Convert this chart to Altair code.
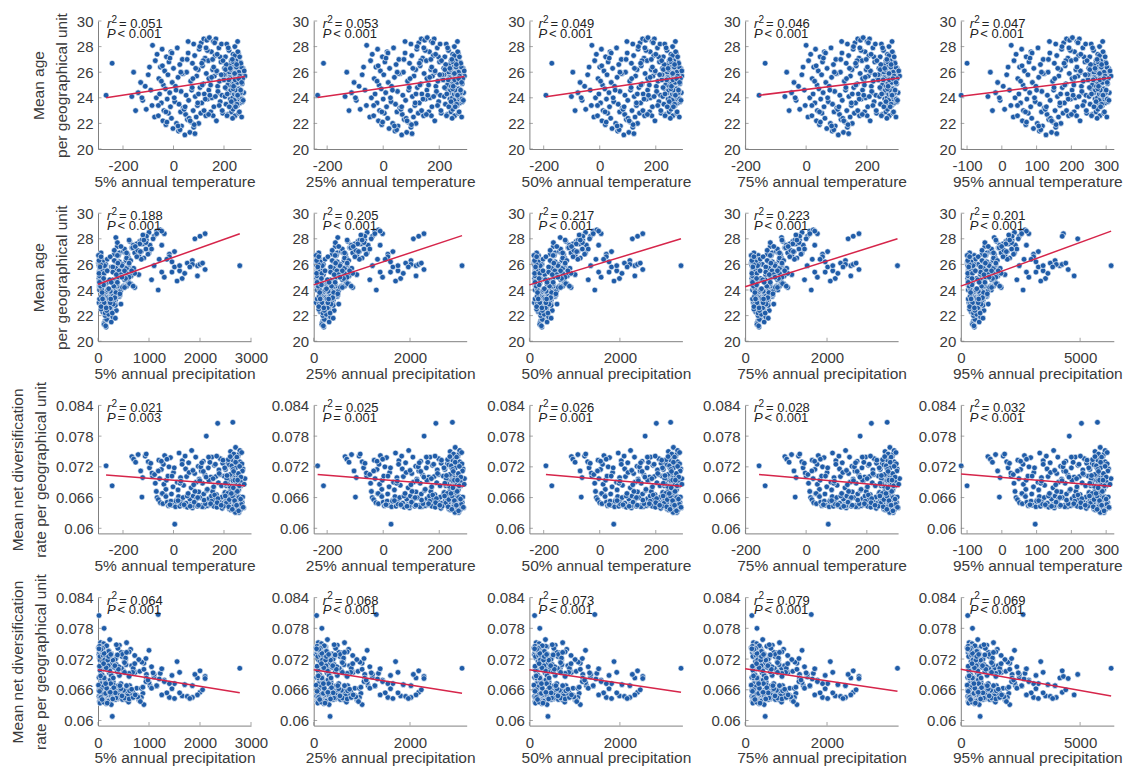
import altair as alt
import pandas as pd

# ---------------------------------------------------------------------------
# One record per geographical unit: mean age, mean net diversification rate,
# quantiles of annual temperature (x10 degC) and annual precipitation (mm).
# ---------------------------------------------------------------------------
AGE = [
    24.2, 26.7, 24.1, 26.0, 23.0, 24.4, 25.2, 23.8, 24.9, 23.1, 25.8, 24.0, 26.4, 24.6, 28.1, 23.4,
    22.5, 26.9, 24.0, 27.4, 22.6, 25.5, 24.3, 26.4, 23.6, 27.8, 22.2, 25.0, 23.0, 26.1, 24.7, 21.9,
    27.2, 23.9, 25.8, 22.8, 26.8, 24.4, 23.3, 27.6, 22.4, 25.2, 21.6, 26.3, 23.7, 24.9, 22.0, 27.9,
    25.6, 21.4, 23.5, 26.6, 22.9, 24.5, 21.8, 27.0, 23.2, 25.9, 21.1, 22.7, 24.2, 26.0, 22.3, 27.5,
    23.8, 21.3, 25.3, 22.1, 24.6, 26.7, 23.0, 21.7, 27.3, 24.1, 22.5, 25.7, 23.4, 26.2, 22.0, 28.2,
    27.8, 24.8, 28.3, 23.6, 26.5, 25.1, 28.6, 24.3, 27.1, 22.6, 25.9, 28.5, 23.9, 26.9, 24.6, 28.7,
    25.4, 22.9, 27.6, 24.0, 26.2, 28.4, 23.3, 25.7, 27.3, 24.9, 28.6, 22.2, 26.0, 24.4, 27.9, 25.3,
    23.7, 26.8, 28.2, 24.2, 22.8, 25.6, 27.0, 25.5,
    25.4, 26.3, 24.1, 27.2, 23.5, 25.9, 24.7, 26.0, 22.7, 25.1, 27.7, 24.4, 26.6, 23.9, 25.6, 24.9,
    26.9, 22.9, 25.2, 24.0, 26.2, 23.2, 25.8, 27.4, 24.6, 25.9, 23.6, 26.4, 24.3, 25.0, 28.0, 22.6,
    25.7, 24.8, 26.1, 23.8, 25.3, 24.5, 26.7, 26.1, 23.4, 28.4, 24.2, 25.6, 22.8, 26.5, 24.7, 25.4,
    23.6, 26.8, 24.0, 25.9, 22.5, 25.1, 26.3, 24.4, 25.7,
    25.0, 26.0, 24.6, 23.1, 25.5, 26.9, 24.3, 25.2, 27.5, 23.9, 25.8, 24.5, 26.4, 23.7, 25.3, 26.0,
    25.6, 28.2,
    23.4, 26.5, 22.1, 27.5, 24.6, 21.5, 25.9, 23.1, 27.0, 22.4, 24.8, 21.9, 26.3, 23.6, 28.0, 22.8,
    25.0, 26.9, 23.9, 27.7, 24.2, 25.6, 22.6, 28.3, 26.1, 24.5, 27.2, 23.0, 25.8, 26.6, 24.3, 27.9,
    23.3, 25.5, 26.2, 24.9, 22.4, 26.8, 25.1, 23.8, 27.3, 24.6, 25.9, 26.4, 23.5, 25.2, 27.6, 24.1,
    26.0, 22.9, 25.7, 24.4, 26.7, 25.3, 23.9, 25.5, 24.7, 25.4, 26.2, 25.8,
    25.3, 22.9, 27.1, 24.0, 21.8, 26.0, 23.3, 28.4, 22.2, 25.5, 21.2, 24.3, 26.7, 23.0, 27.9, 22.7,
    25.0, 26.4, 24.1, 27.4, 23.4, 25.8, 26.9, 24.8, 22.6, 25.4, 26.3, 23.7, 27.0, 24.9, 25.9, 23.3,
    26.6, 24.2, 25.5, 27.2, 24.6, 25.2, 23.8, 26.1,
]

RATE = [
    0.0722, 0.0683, 0.0740, 0.0735, 0.0729, 0.0744, 0.0712, 0.0699, 0.0741, 0.0745, 0.0730, 0.0661,
    0.0718, 0.0727, 0.0702, 0.0708,
    0.0705, 0.0688, 0.0672, 0.0660, 0.0656, 0.0733, 0.0697, 0.0650, 0.0715, 0.0668, 0.0648, 0.0725,
    0.0686, 0.0742, 0.0664, 0.0676, 0.0694, 0.0651, 0.0702, 0.0644, 0.0720, 0.0646, 0.0738, 0.0653,
    0.0667, 0.0645, 0.0681, 0.0709, 0.0608, 0.0642, 0.0655, 0.0690, 0.0675, 0.0662, 0.0747, 0.0643,
    0.0699, 0.0652, 0.0647, 0.0732, 0.0660, 0.0684, 0.0644, 0.0716, 0.0649, 0.0701, 0.0641, 0.0668,
    0.0728, 0.0657, 0.0646, 0.0679, 0.0752, 0.0640, 0.0663, 0.0645, 0.0707, 0.0650, 0.0690, 0.0658,
    0.0643, 0.0721, 0.0671, 0.0685,
    0.0696, 0.0660, 0.0712, 0.0645, 0.0688, 0.0731, 0.0667, 0.0642, 0.0704, 0.0650, 0.0780, 0.0674,
    0.0644, 0.0718, 0.0658, 0.0692, 0.0646, 0.0700, 0.0663, 0.0739, 0.0648, 0.0679, 0.0643, 0.0723,
    0.0656, 0.0805, 0.0701, 0.0666, 0.0641, 0.0689, 0.0714, 0.0652, 0.0736, 0.0645, 0.0683, 0.0661,
    0.0727, 0.0649, 0.0672, 0.0694,
    0.0702, 0.0668, 0.0670, 0.0715, 0.0654, 0.0683, 0.0645, 0.0655, 0.0726, 0.0661, 0.0695, 0.0637,
    0.0672, 0.0672, 0.0750, 0.0648, 0.0683, 0.0641, 0.0719, 0.0807, 0.0659, 0.0700, 0.0643, 0.0733,
    0.0666, 0.0702, 0.0652, 0.0744, 0.0640, 0.0676, 0.0690, 0.0633, 0.0698, 0.0758, 0.0647, 0.0685,
    0.0727, 0.0644, 0.0669, 0.0660, 0.0638, 0.0686, 0.0740, 0.0655, 0.0675, 0.0631, 0.0706, 0.0662,
    0.0730, 0.0648, 0.0689, 0.0690, 0.0651, 0.0650, 0.0716, 0.0640, 0.0697,
    0.0668, 0.0724, 0.0636, 0.0693, 0.0651, 0.0737, 0.0664, 0.0634, 0.0701, 0.0746, 0.0659, 0.0683,
    0.0645, 0.0712, 0.0670, 0.0645, 0.0682, 0.0697,
    0.0712, 0.0668, 0.0735, 0.0702, 0.0653, 0.0688, 0.0725, 0.0646, 0.0663, 0.0709, 0.0644, 0.0651,
    0.0739, 0.0660, 0.0693, 0.0720, 0.0642, 0.0711, 0.0648, 0.0676, 0.0729, 0.0653, 0.0697, 0.0665,
    0.0741, 0.0658, 0.0705, 0.0639, 0.0718, 0.0649, 0.0687, 0.0734, 0.0656, 0.0705, 0.0641, 0.0722,
    0.0663, 0.0679, 0.0745, 0.0644, 0.0694, 0.0631, 0.0718, 0.0654, 0.0739, 0.0672, 0.0640, 0.0707,
    0.0660, 0.0683, 0.0752, 0.0636, 0.0700, 0.0647, 0.0726, 0.0661, 0.0715, 0.0650, 0.0688, 0.0643,
    0.0731, 0.0662, 0.0646, 0.0718, 0.0654, 0.0692, 0.0741, 0.0668, 0.0643, 0.0713, 0.0672, 0.0645,
    0.0728, 0.0655, 0.0700, 0.0739, 0.0648, 0.0681, 0.0725, 0.0650, 0.0707, 0.0645, 0.0733, 0.0663,
    0.0703, 0.0642, 0.0740, 0.0668, 0.0637, 0.0711, 0.0654, 0.0729, 0.0645, 0.0694, 0.0634, 0.0721,
    0.0657, 0.0748, 0.0641, 0.0686,
]

T05 = [
    -267, -243, -165, -158, -150, -140, -130, -122, -112, -108, -100, -125, -95, -90, -83, -85,
    -75, -72, -68, -65, -60, -58, -55, -52, -48, -45, -42, -40, -38, -35, -32, -30,
    -28, -25, -22, -20, -18, -15, -12, -10, -8, -5, -2, 0, 5, 8, 12, 15,
    18, 20, 22, 25, 28, 30, 32, 35, 38, 40, 45, 48, 50, 52, 55, 58,
    60, 65, 68, 70, 72, 75, 78, 80, 84, 86, 90, 92, 95, 98, 100, 80,
    102, 105, 110, 112, 115, 118, 120, 122, 125, 128, 130, 132, 135, 138, 140, 142,
    145, 148, 150, 152, 155, 158, 160, 162, 165, 175, 168, 170, 172, 178, 180, 182,
    185, 188, 190, 192, 195, 198, 155, 140,
    200, 202, 204, 206, 208, 210, 212, 214, 216, 218, 220, 222, 224, 225, 226, 228,
    229, 230, 231, 235, 232, 233, 234, 236, 237, 238, 239, 240, 241, 242, 243, 244,
    245, 246, 247, 248, 249, 250, 251, 252, 253, 254, 255, 256, 258, 259, 260, 262,
    263, 265, 266, 268, 270, 272, 275, 278, 283,
    215, 221, 227, 236, 242, 247, 251, 254, 257, 261, 264, 267, 269, 273, 246, 249,
    223, 211,
    -60, -44, -26, -6, 10, 26, 34, 42, 54, 62, 74, 82, 88, 96, 104, 108,
    114, 118, 126, 134, 144, 151, 157, 163, 171, 176, 184, 193, 203, 209, 213, 217,
    221, 224, 227, 231, 234, 237, 239, 241, 243, 245, 247, 249, 251, 253, 255, 257,
    259, 261, 263, 265, 267, 269, 271, 274, 236, 244, 206, 198,
    -48, -30, -14, 3, 18, 29, 46, 58, 66, 77, 85, 99, 112, 121, 129, 139,
    147, 159, 166, 173, 181, 189, 196, 205, 212, 219, 225, 229, 233, 238, 242, 246,
    250, 254, 258, 262, 266, 270, 276, 280,
]

T25 = [
    -234, -213, -136, -130, -122, -113, -104, -96, -86, -82, -75, -99, -70, -65, -59, -60,
    -48, -45, -42, -39, -34, -32, -29, -26, -22, -20, -17, -15, -13, -10, -7, -5,
    -3, 0, 2, 4, 6, 9, 12, 14, 16, 18, 21, 23, 28, 30, 34, 37,
    40, 42, 44, 46, 49, 51, 53, 56, 59, 61, 66, 68, 70, 72, 75, 78,
    80, 84, 87, 89, 91, 94, 97, 99, 102, 104, 108, 110, 113, 116, 117, 99,
    120, 122, 127, 129, 132, 134, 136, 138, 141, 144, 146, 148, 151, 154, 156, 157,
    160, 163, 165, 167, 170, 172, 174, 176, 179, 188, 182, 184, 186, 191, 193, 195,
    198, 201, 203, 204, 207, 210, 170, 156,
    214, 216, 218, 220, 222, 224, 226, 228, 229, 231, 233, 235, 237, 238, 239, 241,
    242, 242, 243, 247, 244, 245, 246, 248, 249, 250, 251, 252, 253, 253, 254, 255,
    256, 257, 258, 259, 260, 261, 262, 263, 264, 265, 266, 267, 268, 269, 270, 272,
    273, 275, 276, 278, 280, 282, 285, 287, 290,
    229, 234, 240, 248, 253, 258, 262, 265, 268, 271, 274, 277, 279, 283, 257, 260,
    236, 225,
    -34, -18, -2, 17, 33, 48, 55, 63, 74, 82, 93, 101, 106, 114, 121, 125,
    131, 134, 142, 150, 159, 166, 172, 177, 185, 190, 197, 206, 217, 223, 227, 230,
    234, 237, 240, 243, 246, 249, 251, 253, 254, 256, 258, 260, 262, 264, 266, 268,
    269, 271, 273, 275, 277, 279, 281, 284, 248, 255, 220, 210,
    -22, -5, 10, 26, 40, 50, 66, 78, 85, 96, 103, 117, 129, 137, 145, 154,
    162, 173, 180, 187, 194, 202, 208, 219, 226, 232, 238, 242, 245, 250, 254, 257,
    261, 265, 269, 272, 276, 280, 286, 289,
]

T50 = [
    -192, -171, -101, -96, -88, -78, -70, -63, -54, -50, -43, -66, -38, -34, -28, -30,
    -21, -18, -15, -12, -8, -6, -3, 0, 3, 6, 8, 10, 12, 15, 18, 20,
    21, 24, 26, 28, 30, 33, 35, 37, 39, 41, 44, 46, 50, 53, 57, 60,
    62, 64, 66, 68, 71, 72, 74, 77, 80, 81, 86, 89, 90, 92, 95, 98,
    100, 104, 107, 109, 110, 113, 115, 118, 121, 123, 126, 128, 131, 133, 135, 118,
    137, 140, 144, 146, 148, 151, 153, 155, 158, 160, 162, 164, 167, 169, 171, 172,
    175, 178, 180, 181, 184, 187, 188, 190, 193, 202, 195, 197, 199, 204, 206, 208,
    211, 213, 215, 217, 219, 222, 184, 171,
    222, 224, 225, 227, 229, 231, 232, 234, 236, 238, 240, 241, 243, 244, 245, 247,
    248, 248, 249, 253, 250, 251, 252, 254, 255, 256, 257, 258, 259, 259, 260, 261,
    262, 263, 264, 265, 266, 267, 267, 268, 269, 270, 271, 272, 274, 275, 275, 277,
    278, 280, 281, 283, 284, 286, 289, 291, 293,
    235, 241, 246, 254, 259, 264, 267, 270, 273, 276, 279, 282, 284, 287, 263, 266,
    242, 232,
    -8, 7, 23, 41, 55, 69, 77, 83, 94, 101, 112, 119, 124, 131, 138, 142,
    147, 151, 158, 165, 174, 180, 186, 191, 198, 203, 210, 218, 224, 230, 233, 237,
    241, 243, 246, 249, 252, 255, 257, 259, 260, 262, 264, 266, 267, 269, 271, 273,
    275, 276, 278, 280, 282, 284, 285, 288, 254, 261, 227, 222,
    3, 19, 34, 48, 62, 72, 87, 97, 105, 114, 122, 134, 146, 154, 161, 170,
    177, 188, 194, 200, 207, 214, 221, 226, 233, 239, 244, 248, 251, 256, 260, 263,
    267, 270, 274, 278, 281, 285, 290, 293,
]

T75 = [
    -155, -135, -70, -64, -56, -48, -40, -33, -25, -21, -14, -36, -10, -6, 0, -3,
    6, 8, 12, 15, 19, 20, 23, 25, 29, 31, 34, 36, 37, 40, 42, 44,
    46, 48, 51, 52, 54, 56, 59, 60, 62, 65, 68, 69, 73, 76, 80, 82,
    84, 86, 87, 90, 92, 94, 96, 98, 101, 102, 106, 110, 111, 113, 115, 118,
    119, 123, 126, 128, 130, 132, 134, 136, 140, 141, 145, 146, 149, 151, 152, 136,
    155, 157, 161, 163, 165, 168, 170, 172, 174, 176, 178, 179, 182, 184, 186, 188,
    190, 193, 194, 196, 198, 201, 203, 205, 207, 215, 209, 211, 213, 218, 220, 221,
    224, 226, 228, 230, 232, 235, 198, 186,
    238, 240, 242, 244, 245, 247, 248, 250, 251, 253, 255, 256, 258, 259, 260, 262,
    263, 263, 264, 267, 265, 266, 266, 268, 269, 269, 270, 271, 272, 272, 273, 274,
    275, 276, 277, 278, 279, 280, 280, 281, 282, 283, 284, 284, 286, 287, 287, 289,
    290, 291, 292, 294, 296, 298, 300, 303, 308,
    251, 256, 261, 268, 272, 277, 280, 283, 285, 288, 290, 293, 295, 299, 276, 279,
    257, 248,
    19, 33, 47, 64, 78, 91, 98, 104, 114, 121, 131, 138, 143, 149, 156, 159,
    164, 168, 175, 181, 190, 195, 201, 205, 212, 216, 223, 231, 241, 246, 249, 252,
    256, 258, 261, 264, 266, 269, 270, 272, 273, 275, 277, 279, 280, 282, 284, 285,
    287, 288, 290, 291, 293, 295, 297, 300, 268, 274, 244, 237,
    28, 44, 57, 71, 84, 93, 108, 117, 124, 133, 140, 152, 163, 170, 177, 185,
    192, 202, 208, 214, 220, 227, 233, 243, 248, 254, 259, 263, 266, 270, 273, 277,
    280, 283, 286, 290, 293, 296, 301, 305,
]

T95 = [
    -117, -100, -40, -33, -27, -18, -12, -5, 4, 8, 14, -7, 18, 22, 27, 26,
    33, 35, 38, 41, 45, 46, 49, 51, 54, 57, 59, 61, 62, 65, 67, 69,
    70, 72, 75, 76, 78, 80, 83, 84, 86, 88, 91, 92, 96, 98, 102, 104,
    106, 108, 109, 111, 114, 115, 117, 119, 122, 123, 127, 130, 131, 133, 135, 138,
    139, 143, 146, 147, 149, 151, 153, 155, 158, 160, 163, 164, 167, 169, 170, 155,
    172, 174, 178, 180, 182, 184, 186, 188, 190, 192, 194, 195, 198, 200, 202, 203,
    205, 208, 209, 211, 213, 216, 217, 219, 221, 229, 223, 225, 227, 231, 233, 234,
    237, 239, 241, 242, 244, 247, 213, 202,
    248, 250, 251, 253, 254, 256, 257, 259, 260, 262, 264, 265, 267, 268, 268, 270,
    271, 271, 272, 275, 273, 274, 274, 276, 277, 277, 278, 279, 280, 280, 281, 282,
    283, 283, 284, 285, 286, 287, 287, 288, 289, 290, 291, 291, 293, 294, 294, 296,
    297, 298, 299, 301, 302, 304, 307, 309, 314,
    260, 265, 269, 276, 280, 284, 287, 290, 292, 295, 297, 300, 302, 305, 283, 286,
    266, 257,
    45, 58, 71, 87, 100, 112, 119, 125, 134, 140, 150, 156, 161, 167, 173, 176,
    181, 184, 191, 197, 205, 210, 215, 219, 226, 230, 236, 243, 250, 255, 258, 261,
    265, 267, 269, 272, 274, 277, 278, 280, 281, 283, 284, 286, 287, 289, 291, 292,
    294, 295, 297, 298, 300, 302, 303, 306, 276, 282, 253, 247,
    54, 68, 81, 94, 106, 114, 128, 137, 143, 152, 158, 169, 179, 186, 193, 200,
    207, 216, 222, 227, 233, 240, 245, 252, 258, 263, 268, 271, 274, 278, 281, 284,
    287, 291, 294, 297, 300, 303, 308, 311,
]

P05 = [
    30, 60, 40, 90, 20, 150, 110, 200, 70, 130, 260, 300, 40, 180, 350, 90,
    250, 420, 60, 380, 120, 30, 500, 180, 90, 620, 150, 40, 280, 10, 340, 200,
    730, 110, 460, 260, 320, 80, 30, 880, 170, 400, 140, 550, 280, 60, 220, 950,
    300, 120, 420, 240, 70, 640, 180, 500, 340, 20, 160, 260, 720, 380, 90, 1020,
    200, 120, 470, 240, 50, 800, 310, 170, 660, 420, 60, 560, 250, 350, 140, 1100,
    820, 280, 900, 150, 600, 90, 1150, 380, 320, 200, 120, 1000, 440, 540, 60, 1220,
    300, 180, 760, 30, 420, 1300, 250, 350, 680, 20, 1250, 140, 480, 70, 860, 560,
    210, 1400, 950, 330, 100, 650, 1500, 1600,
    40, 1850, 300, 520, 150, 1950, 90, 2000, 200, 650, 380, 30, 1400, 250, 110, 1650,
    60, 340, 800, 1180, 20, 180, 1500, 450, 100, 2780, 280, 70, 560, 1300, 1900, 160,
    40, 230, 1750, 120, 720, 380, 10, 2050, 200, 2100, 60, 470, 140, 900, 30, 1450,
    260, 580, 80, 1100, 190, 1950, 320, 50, 700,
    400, 150, 600, 220, 90, 1000, 310, 40, 1250, 170, 500, 120, 850, 280, 1700, 1850,
    2100, 2000,
    330, 560, 210, 690, 380, 260, 470, 310, 850, 360, 520, 290, 640, 430, 1080, 340,
    610, 720, 260, 940, 480, 150, 230, 880, 390, 620, 1050, 120, 290, 760, 50, 610,
    220, 410, 90, 540, 170, 980, 30, 350, 680, 260, 130, 1350, 70, 450, 820, 200,
    50, 300, 560, 110, 400, 20, 240, 660, 1550, 1250, 1450, 1800,
    120, 450, 780, 190, 340, 610, 90, 1150, 280, 520, 150, 690, 380, 240, 900, 60,
    470, 1200, 210, 730, 330, 40, 560, 1050, 160, 290, 20, 430, 830, 110, 1600, 250,
    60, 520, 180, 940, 30, 360, 80, 610,
]

P25 = [
    70, 110, 85, 170, 50, 250, 200, 310, 140, 230, 380, 430, 100, 290, 500, 170,
    310, 490, 100, 450, 170, 70, 575, 235, 135, 705, 200, 85, 340, 50, 405, 255,
    820, 160, 530, 320, 385, 125, 70, 980, 220, 470, 190, 630, 340, 105, 275, 1060,
    360, 170, 490, 295, 115, 725, 235, 575, 405, 60, 210, 320, 810, 450, 135, 1130,
    255, 170, 545, 295, 95, 895, 370, 220, 745, 490, 105, 640, 310, 415, 190, 1220,
    920, 340, 1005, 200, 680, 135, 1270, 450, 385, 255, 170, 1110, 510, 615, 105, 1345,
    360, 235, 855, 70, 490, 1430, 310, 415, 770, 60, 1380, 190, 555, 115, 960, 640,
    265, 1540, 1060, 395, 145, 735, 1645, 1750,
    85, 2020, 360, 595, 200, 2125, 135, 2180, 255, 735, 450, 70, 1540, 310, 160, 1805,
    105, 405, 895, 1300, 60, 235, 1645, 520, 145, 3080, 340, 115, 640, 1430, 2070, 210,
    85, 285, 1910, 170, 810, 450, 50, 2235, 255, 2290, 105, 545, 190, 1005, 70, 1595,
    320, 660, 125, 1220, 245, 2125, 385, 95, 790,
    470, 200, 680, 275, 135, 1110, 370, 85, 1380, 220, 575, 170, 950, 340, 1860, 2020,
    2290, 2180,
    395, 640, 265, 780, 445, 320, 545, 370, 950, 425, 595, 350, 725, 500, 1195, 405,
    695, 810, 320, 1045, 555, 200, 285, 980, 455, 705, 1165, 170, 350, 855, 95, 695,
    275, 480, 135, 620, 220, 1090, 70, 415, 770, 320, 180, 1485, 115, 520, 915, 255,
    95, 360, 640, 160, 470, 60, 295, 745, 1700, 1380, 1595, 1965,
    170, 520, 875, 245, 405, 695, 135, 1270, 340, 595, 200, 780, 445, 295, 1005, 105,
    545, 1325, 265, 820, 395, 85, 640, 1165, 210, 350, 60, 500, 930, 160, 1750, 310,
    105, 595, 235, 1045, 70, 425, 125, 695,
]

P50 = [
    140, 200, 160, 280, 110, 390, 340, 450, 240, 360, 540, 600, 190, 430, 680, 290,
    380, 570, 160, 530, 230, 125, 665, 300, 195, 805, 265, 135, 410, 100, 480, 320,
    930, 215, 620, 390, 460, 180, 125, 1100, 285, 550, 250, 720, 410, 160, 345, 1180,
    435, 230, 570, 365, 170, 825, 300, 665, 480, 115, 275, 390, 920, 530, 195, 1260,
    320, 230, 630, 365, 150, 1010, 445, 285, 850, 570, 160, 735, 380, 490, 250, 1350,
    1035, 410, 1125, 265, 780, 195, 1410, 530, 460, 320, 230, 1240, 595, 710, 160, 1490,
    435, 300, 965, 125, 570, 1585, 380, 490, 870, 115, 1530, 250, 640, 170, 1080, 735,
    330, 1700, 1180, 470, 205, 840, 1815, 1930,
    135, 2220, 435, 690, 265, 2330, 195, 2390, 320, 840, 530, 125, 1700, 380, 215, 1990,
    160, 480, 1010, 1445, 115, 300, 1815, 605, 205, 3350, 410, 170, 735, 1585, 2275, 275,
    135, 355, 2100, 230, 920, 530, 100, 2450, 320, 2505, 160, 630, 250, 1125, 125, 1760,
    390, 755, 180, 1355, 310, 2330, 460, 150, 895,
    550, 265, 780, 345, 195, 1240, 445, 135, 1530, 285, 665, 230, 1070, 410, 2045, 2220,
    2505, 2390,
    470, 735, 330, 885, 525, 390, 630, 445, 1070, 505, 690, 425, 825, 585, 1330, 480,
    790, 920, 390, 1170, 640, 265, 355, 1100, 540, 805, 1300, 230, 425, 965, 150, 790,
    345, 560, 195, 710, 285, 1220, 125, 490, 870, 390, 240, 1640, 170, 605, 1035, 320,
    150, 435, 735, 215, 550, 115, 365, 850, 1870, 1530, 1760, 2160,
    230, 610, 985, 310, 480, 790, 195, 1410, 410, 690, 265, 885, 525, 365, 1125, 160,
    630, 1470, 330, 930, 470, 135, 735, 1300, 275, 425, 115, 585, 1045, 215, 1930, 380,
    160, 690, 300, 1170, 125, 505, 180, 790,
]

P75 = [
    250, 320, 270, 420, 200, 560, 500, 640, 380, 530, 740, 800, 330, 600, 890, 450,
    450, 660, 215, 615, 290, 180, 765, 365, 255, 915, 330, 190, 490, 150, 565, 390,
    1050, 280, 715, 465, 540, 240, 180, 1240, 350, 640, 315, 830, 490, 215, 415, 1330,
    515, 290, 665, 440, 230, 940, 365, 765, 565, 165, 340, 465, 1040, 615, 255, 1420,
    390, 290, 730, 440, 205, 1140, 530, 350, 965, 665, 215, 840, 450, 580, 315, 1520,
    1165, 490, 1265, 330, 890, 255, 1580, 615, 540, 390, 290, 1390, 690, 815, 215, 1665,
    515, 365, 1090, 180, 665, 1765, 450, 580, 990, 165, 1700, 315, 740, 230, 1215, 840,
    400, 1890, 1330, 555, 265, 955, 2015, 2140,
    190, 2450, 515, 790, 330, 2580, 255, 2640, 390, 955, 615, 180, 1890, 450, 280, 2200,
    215, 565, 1140, 1615, 165, 365, 2015, 700, 265, 3720, 490, 230, 840, 1765, 2515, 340,
    190, 430, 2330, 290, 1040, 615, 150, 2710, 390, 2780, 215, 730, 315, 1265, 180, 1955,
    465, 865, 240, 1515, 380, 2580, 540, 205, 1015,
    640, 330, 890, 415, 255, 1390, 530, 190, 1700, 350, 765, 290, 1205, 490, 2265, 2450,
    2780, 2640,
    555, 840, 400, 1005, 615, 465, 730, 530, 1200, 590, 790, 505, 940, 680, 1490, 565,
    900, 1040, 465, 1315, 740, 330, 430, 1240, 630, 915, 1450, 290, 505, 1090, 205, 900,
    415, 655, 255, 815, 350, 1365, 180, 580, 990, 465, 305, 1830, 230, 700, 1165, 390,
    205, 515, 840, 280, 640, 165, 440, 965, 2080, 1700, 1955, 2390,
    290, 700, 1115, 380, 565, 900, 255, 1580, 490, 790, 330, 1005, 615, 440, 1265, 215,
    730, 1640, 400, 1050, 555, 190, 840, 1450, 340, 505, 165, 680, 1180, 280, 2140, 450,
    215, 790, 365, 1315, 180, 590, 240, 900,
]

P95 = [
    420, 560, 470, 720, 340, 900, 820, 1050, 660, 860, 1180, 1280, 600, 960, 1400, 780,
    760, 1100, 370, 1010, 490, 310, 1250, 610, 430, 1490, 550, 330, 810, 270, 930, 650,
    1710, 470, 1170, 770, 890, 410, 310, 2010, 590, 1050, 530, 1350, 810, 370, 690, 2150,
    850, 490, 1090, 730, 390, 1530, 610, 1250, 930, 290, 570, 770, 1690, 1010, 430, 2290,
    650, 490, 1190, 730, 350, 1850, 870, 590, 1570, 1090, 370, 1370, 750, 950, 530, 2450,
    1890, 810, 2050, 550, 1450, 430, 2550, 1010, 890, 650, 490, 2250, 1130, 1330, 370, 2690,
    850, 610, 1770, 310, 1090, 2850, 750, 950, 1610, 290, 2750, 530, 1210, 390, 1970, 1370,
    670, 3050, 2150, 910, 450, 1550, 3250, 3450,
    330, 3950, 850, 1290, 550, 4150, 430, 4250, 650, 1550, 1010, 310, 3050, 750, 470, 3550,
    370, 930, 1850, 2610, 290, 610, 3250, 1150, 450, 6300, 810, 390, 1370, 2850, 4900, 570,
    330, 710, 3750, 490, 1690, 1010, 270, 4400, 650, 4300, 370, 1190, 530, 2050, 310, 3150,
    770, 1410, 410, 2450, 630, 4750, 890, 350, 1650,
    1050, 550, 1450, 690, 430, 2250, 870, 330, 2750, 590, 1250, 490, 1950, 810, 3650, 4000,
    4500, 4250,
    910, 1370, 670, 1630, 1010, 770, 1190, 870, 1950, 970, 1290, 830, 1530, 1110, 2410, 930,
    1470, 1690, 770, 2130, 1210, 550, 710, 2010, 1030, 1490, 2350, 490, 830, 1770, 350, 1470,
    690, 1070, 430, 1330, 590, 2210, 310, 950, 1610, 770, 510, 2950, 390, 1150, 1890, 650,
    350, 850, 1370, 470, 1050, 290, 730, 1570, 3350, 2750, 3150, 3850,
    490, 1150, 1810, 630, 930, 1470, 430, 2550, 810, 1290, 550, 1630, 1010, 730, 2050, 370,
    1190, 2650, 670, 1710, 910, 330, 1370, 2350, 570, 830, 290, 1110, 1910, 470, 3450, 750,
    370, 1290, 610, 2130, 310, 970, 410, 1470,
]

# ---------------------------------------------------------------------------
# Panel settings
# ---------------------------------------------------------------------------
QUANTILES = ["5%", "25%", "50%", "75%", "95%"]
T_FIELDS = ["t05", "t25", "t50", "t75", "t95"]
P_FIELDS = ["p05", "p25", "p50", "p75", "p95"]

T_DOMAINS = [[-299, 307], [-248, 298], [-251, 295], [-201, 303], [-118, 322]]
T_TICKS = [[-200, 0, 200], [-200, 0, 200], [-200, 0, 200], [-200, 0, 200],
           [-100, 0, 100, 200, 300]]
P_DOMAINS = [[0, 3000], [0, 3177], [0, 3381], [0, 3735], [0, 6412]]
P_TICKS = [[0, 1000, 2000, 3000], [0, 2000], [0, 2000], [0, 2000], [0, 5000]]

AGE_DOMAIN = [20, 30]
AGE_TICKS = [20, 22, 24, 26, 28, 30]
RATE_DOMAIN = [0.059, 0.084]
RATE_TICKS = [0.06, 0.066, 0.072, 0.078, 0.084]

Y_TITLES = [["Mean age", "per geographical unit"],
            ["Mean net diversification", "rate per geographical unit"]]

# Goodness of fit and significance printed in each panel
R2 = [
    [0.051, 0.053, 0.049, 0.046, 0.047],
    [0.188, 0.205, 0.217, 0.223, 0.201],
    [0.021, 0.025, 0.026, 0.028, 0.032],
    [0.064, 0.068, 0.073, 0.079, 0.069],
]
P_TEXT = [
    ["< 0.001"] * 5,
    ["< 0.001"] * 5,
    ["= 0.003", "= 0.001", "= 0.001", "< 0.001", "< 0.001"],
    ["< 0.001"] * 5,
]

# Least-squares fit lines: end points (x0, y0) -> (x1, y1)
FIT_X0 = [[-267, -234, -192, -155, -117], [0, 0, 0, 0, 0],
          [-267, -234, -192, -155, -117], [0, 0, 0, 0, 0]]
FIT_X1 = [[283, 290, 293, 308, 314], [2780, 3080, 3350, 3720, 6300],
          [283, 290, 293, 308, 314], [2780, 3080, 3350, 3720, 6300]]
FIT_Y0 = [[24.0, 24.02, 24.08, 24.2, 24.13],
          [24.45, 24.4, 24.4, 24.25, 24.3],
          [0.0704, 0.0705, 0.0705, 0.0705, 0.0706],
          [0.0699, 0.0699, 0.0699, 0.0701, 0.0700]]
FIT_Y1 = [[25.67, 25.66, 25.62, 25.55, 25.56],
          [28.4, 28.25, 28.0, 28.0, 28.6],
          [0.0683, 0.0682, 0.0682, 0.0681, 0.0682],
          [0.0654, 0.0653, 0.0655, 0.0657, 0.0648]]

units = pd.DataFrame({
    "age": AGE, "rate": RATE,
    "t05": T05, "t25": T25, "t50": T50, "t75": T75, "t95": T95,
    "p05": P05, "p25": P25, "p50": P50, "p75": P75, "p95": P95,
})

W, H = 153, 128
FONT = "Liberation Sans"
TXT = "#3a3a3a"
AXIS_C = "#808080"
BLUE = "#1f5ca8"
RED = "#d6254a"
LABEL = "'' + datum.value"
ANN = 13


def panel(r, c):
    is_temp = r % 2 == 0
    yfield = "age" if r < 2 else "rate"
    xfield = (T_FIELDS if is_temp else P_FIELDS)[c]
    xdom = (T_DOMAINS if is_temp else P_DOMAINS)[c]
    xticks = (T_TICKS if is_temp else P_TICKS)[c]
    ydom = AGE_DOMAIN if r < 2 else RATE_DOMAIN
    yticks = AGE_TICKS if r < 2 else RATE_TICKS
    xtitle = f"{QUANTILES[c]} annual {'temperature' if is_temp else 'precipitation'}"
    ytitle = Y_TITLES[r // 2] if c == 0 else None

    xs = alt.Scale(domain=xdom, nice=False, zero=False)
    ys = alt.Scale(domain=ydom, nice=False, zero=False)
    # identical axis definitions in every layer so that they merge into one
    xax = alt.Axis(values=xticks, title=xtitle, labelExpr=LABEL)
    yax = alt.Axis(values=yticks, title=ytitle, labelExpr=LABEL)

    pts = alt.Chart(units).mark_circle(
        size=32, color=BLUE, opacity=1, stroke="white", strokeWidth=0.6
    ).encode(
        x=alt.X(f"{xfield}:Q", scale=xs, axis=xax),
        y=alt.Y(f"{yfield}:Q", scale=ys, axis=yax),
    )

    fit = pd.DataFrame({xfield: [FIT_X0[r][c], FIT_X1[r][c]],
                        yfield: [FIT_Y0[r][c], FIT_Y1[r][c]]})
    line = alt.Chart(fit).mark_line(color=RED, strokeWidth=1.5).encode(
        x=alt.X(f"{xfield}:Q", scale=xs, axis=xax),
        y=alt.Y(f"{yfield}:Q", scale=ys, axis=yax),
    )

    # short inward tick marks on both axes
    xt = alt.Chart(pd.DataFrame({xfield: xticks})).mark_tick(
        color=AXIS_C, thickness=1, size=3.5, orient="vertical"
    ).encode(x=alt.X(f"{xfield}:Q", scale=xs, axis=xax), y=alt.value(H - 1.75))
    yt = alt.Chart(pd.DataFrame({yfield: yticks})).mark_tick(
        color=AXIS_C, thickness=1, size=3.5, orient="horizontal"
    ).encode(y=alt.Y(f"{yfield}:Q", scale=ys, axis=yax), x=alt.value(1.75))

    lab = pd.DataFrame({"r2": [f"= {R2[r][c]:.3f}"], "p": [P_TEXT[r][c]]})
    base = alt.Chart(lab)
    common = dict(align="left", baseline="middle", font=FONT, color="#222222")
    t_r = base.mark_text(text="r", fontStyle="italic", fontSize=ANN, **common).encode(
        x=alt.value(9), y=alt.value(3))
    t_sq = base.mark_text(text="2", fontSize=10, **common).encode(
        x=alt.value(13.5), y=alt.value(-1.5))
    t_r2 = base.mark_text(fontSize=ANN, **common).encode(
        x=alt.value(21), y=alt.value(3), text="r2:N")
    t_p = base.mark_text(text="P", fontStyle="italic", fontSize=ANN, **common).encode(
        x=alt.value(9), y=alt.value(12.5))
    t_pv = base.mark_text(fontSize=ANN, **common).encode(
        x=alt.value(19.5), y=alt.value(12.5), text="p:N")

    return alt.layer(pts, line, xt, yt, t_r, t_sq, t_r2, t_p, t_pv).properties(
        width=W, height=H)


panels = [panel(r, c) for r in range(4) for c in range(5)]

chart = alt.concat(
    *panels, columns=5, spacing={"row": 64.2, "column": 62.7}, bounds="flush"
).properties(
    padding={"left": 10, "top": 12, "right": 0, "bottom": 0}
).configure_view(
    strokeWidth=0
).configure_axis(
    grid=False, domainColor=AXIS_C, domainWidth=1, ticks=False, tickSize=0,
    labelFont=FONT, labelFontSize=15, labelColor=TXT, labelFlush=False,
    labelOverlap=False, titleFont=FONT, titleFontSize=15.5,
    titleFontWeight="normal", titleColor=TXT,
).configure_axisX(
    labelPadding=9.5, titlePadding=0.5
).configure_axisY(
    labelPadding=5, titlePadding=7, titleLineHeight=23
)

chart.save("out.html", embed_options={"renderer": "svg", "actions": False})
